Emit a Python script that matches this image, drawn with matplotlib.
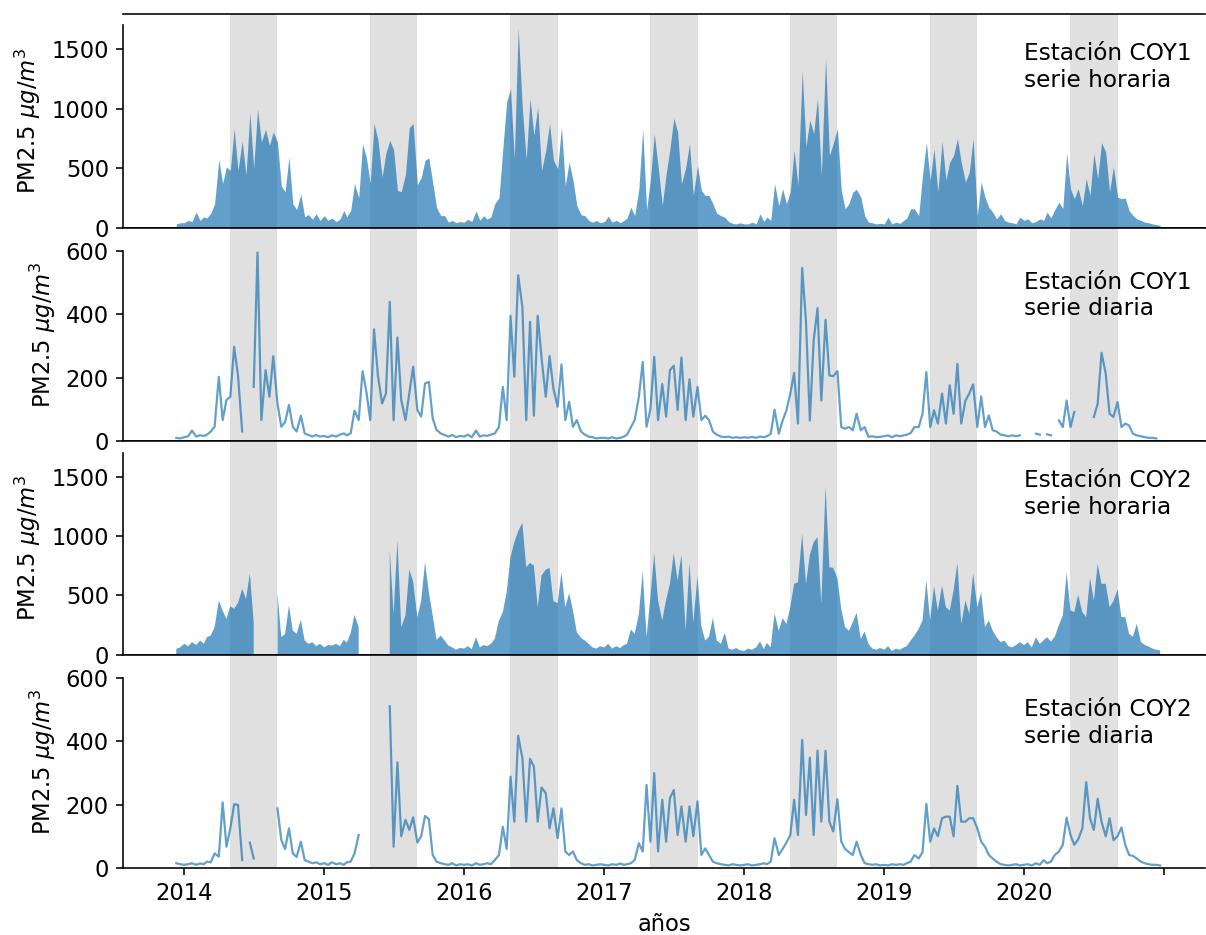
import numpy as np
import pandas as pd
import matplotlib
matplotlib.use('Agg')
import matplotlib.pyplot as plt

nan = np.nan

# valores leidos cada ~10 dias (dias 1, 11 y 21 de cada mes), dic-2013 a dic-2020
coy1_horaria = [
    nan, 30, 40,
    40, 60, 50, 130, 60, 90, 80, 120, 200, 573, 370, 510, 480, 832, 480, 725, 440, 966, 500, 995, 720, 826, 690, 804, 720, 350, 300, 593, 200, 150, 280, 90, 110, 70, 115, 60,
    100, 60, 80, 50, 70, 143, 90, 143, 370, 250, 705, 587, 370, 874, 740, 425, 627, 733, 655, 312, 300, 450, 840, 874, 360, 420, 565, 585, 377, 170, 100, 100, 45, 60, 40, 50,
    45, 70, 50, 140, 60, 100, 70, 90, 200, 250, 663, 1057, 1170, 580, 1680, 1000, 573, 1085, 775, 1015, 480, 650, 874, 565, 495, 846, 354, 550, 400, 185, 107, 100, 60, 45, 60, 40,
    50, 95, 45, 60, 40, 60, 80, 170, 100, 326, 830, 150, 400, 790, 520, 185, 450, 663, 920, 804, 368, 500, 705, 270, 523, 312, 270, 270, 200, 120, 100, 87, 50, 35, 30, 40,
    30, 30, 45, 30, 115, 50, 87, 60, 368, 185, 326, 200, 300, 650, 354, 1323, 680, 903, 790, 1090, 440, 1430, 607, 705, 832, 312, 157, 200, 298, 320, 255, 100, 45, 40, 30, 35,
    30, 87, 30, 45, 35, 60, 80, 157, 157, 100, 440, 714, 396, 663, 298, 725, 402, 550, 607, 748, 550, 382, 466, 748, 100, 382, 255, 170, 130, 73, 115, 60, 45, 40, 30, 87,
    60, 73, 40, 50, 73, 60, 130, 80, 150, 213, 160, 627, 326, 242, 326, 185, 410, 270, 627, 410, 714, 635, 298, 514, 255, 242, 247, 143, 100, 73, 60, 45, 40, 30, 25, 17,
]

coy1_diaria = [
    nan, 10, 8,
    12, 15, 33, 14, 18, 16, 20, 30, 45, 203, 66, 130, 140, 298, 208, 30, nan, nan, 171, 596, 66, 224, 140, 268, 119, 45, 60, 114, 45, 30, 80, 24, 19, 14, 19, 14,
    16, 12, 18, 14, 20, 24, 18, 24, 96, 66, 221, 156, 66, 353, 208, 119, 150, 440, 66, 327, 130, 66, 150, 235, 98, 77, 182, 187, 72, 35, 24, 19, 14, 19, 12, 16,
    14, 20, 12, 33, 14, 18, 16, 20, 24, 45, 171, 66, 396, 203, 524, 424, 66, 377, 80, 396, 263, 140, 268, 166, 108, 242, 66, 124, 45, 66, 30, 20, 14, 12, 8, 10,
    10, 8, 12, 8, 10, 14, 20, 43, 66, 140, 250, 45, 100, 266, 66, 180, 77, 224, 238, 98, 264, 66, 195, 77, 171, 66, 80, 66, 30, 20, 14, 12, 14, 10, 12, 10,
    12, 10, 13, 10, 14, 12, 15, 23, 99, 23, 65, 97, 150, 215, 55, 547, 376, 65, 318, 420, 128, 383, 207, 205, 221, 44, 39, 44, 34, 86, 34, 44, 13, 15, 12, 13,
    15, 18, 12, 18, 15, 18, 20, 25, 44, 44, 86, 218, 44, 97, 55, 150, 55, 176, 86, 244, 55, 128, 150, 179, 44, 141, 44, 81, 34, 30, 20, 18, 15, 18, 15, 18,
    nan, nan, nan, 23, 20, nan, 21, 18, nan, 65, 44, 128, 44, 92, nan, nan, nan, nan, 76, 118, 279, 213, 86, 76, 123, 44, 55, 49, 23, 18, 15, 12, 10, 10, 8, nan,
]

coy2_horaria = [
    nan, 48, 60,
    90, 70, 104, 80, 118, 90, 146, 160, 230, 455, 370, 300, 407, 385, 435, 553, 469, 685, 272, nan, nan, nan, nan, nan, 517, 146, 174, 413, 202, 174, 292, 118, 90, 104, 70, 90,
    60, 80, 75, 90, 70, 124, 100, 180, 334, 230, nan, nan, nan, nan, nan, nan, nan, 882, 343, 961, 230, 329, 716, 615, 315, 455, 778, 525, 329, 124, 160, 118, 75, 60, 40, 55,
    50, 70, 45, 146, 60, 80, 70, 90, 132, 287, 357, 525, 820, 947, 1040, 1110, 736, 772, 750, 399, 666, 716, 730, 449, 433, 694, 399, 517, 371, 188, 140, 118, 90, 60, 50, 70,
    60, 90, 50, 70, 55, 80, 90, 211, 174, 343, 700, 146, 483, 854, 455, 287, 460, 596, 854, 624, 840, 202, 772, 272, 660, 239, 118, 150, 309, 118, 90, 183, 50, 40, 55, 35,
    30, 50, 40, 60, 110, 45, 98, 60, 348, 200, 306, 258, 399, 596, 610, 1017, 596, 840, 947, 989, 427, 1419, 736, 730, 643, 385, 230, 200, 272, 351, 132, 194, 90, 50, 40, 55,
    40, 70, 30, 50, 40, 60, 70, 118, 160, 216, 287, 624, 287, 576, 371, 581, 399, 371, 539, 772, 258, 455, 343, 685, 399, 525, 230, 287, 202, 146, 104, 118, 70, 60, 80, 104,
    80, 104, 60, 146, 90, 120, 146, 110, 150, 250, 329, 688, 371, 357, 503, 357, 315, 646, 455, 764, 596, 596, 399, 449, 548, 315, 315, 174, 150, 258, 104, 80, 67, 50, 40, 34,
]

coy2_diaria = [
    nan, 15, 12,
    10, 12, 15, 10, 14, 12, 20, 18, 46, 36, 207, 67, 125, 201, 199, 25, nan, 80, 30, nan, nan, nan, nan, nan, 188, 88, 60, 125, 46, 35, 83, 25, 20, 15, 18, 12,
    15, 10, 18, 12, 15, 10, 18, 20, 46, 104, nan, nan, nan, nan, nan, nan, nan, 510, 67, 333, 100, 152, 120, 160, 80, 100, 164, 154, 41, 20, 15, 12, 10, 15, 8, 12,
    10, 12, 8, 15, 10, 12, 15, 12, 25, 41, 130, 60, 288, 146, 417, 346, 146, 344, 320, 146, 254, 236, 125, 188, 94, 188, 52, 41, 52, 25, 15, 10, 12, 8, 10, 12,
    10, 8, 12, 10, 14, 10, 12, 15, 25, 78, 52, 262, 83, 299, 52, 215, 83, 220, 246, 104, 194, 83, 194, 100, 210, 41, 62, 41, 20, 15, 12, 10, 8, 12, 10, 8,
    10, 12, 8, 10, 12, 15, 12, 20, 94, 41, 60, 80, 104, 215, 104, 404, 167, 348, 104, 370, 146, 369, 146, 115, 217, 83, 60, 50, 41, 83, 41, 15, 12, 10, 12, 8,
    10, 8, 12, 10, 12, 10, 15, 20, 41, 30, 50, 202, 83, 125, 100, 157, 162, 162, 100, 259, 146, 146, 157, 157, 125, 83, 67, 41, 30, 20, 12, 10, 8, 10, 12, 8,
    10, 12, 8, 15, 10, 25, 15, 20, 41, 52, 73, 159, 104, 73, 90, 125, 271, 157, 120, 218, 146, 100, 157, 88, 100, 128, 73, 41, 38, 30, 20, 15, 12, 10, 10, 8,
]

fechas = pd.to_datetime([f'{y}-{m:02d}-{d:02d}' for y in range(2013, 2021)
                         for m in range(1, 13) for d in (1, 11, 21)])[33:]

series = [coy1_horaria, coy1_diaria, coy2_horaria, coy2_diaria]
horaria = [True, False, True, False]
textos = ['Estación COY1\nserie horaria', 'Estación COY1\nserie diaria',
          'Estación COY2\nserie horaria', 'Estación COY2\nserie diaria']
ytop = [1795, 675, 1800, 673]
yticks = [[0, 500, 1000, 1500], [0, 200, 400, 600], [0, 500, 1000, 1500], [0, 200, 400, 600]]
spine_top = [1700, 600, 1700, 600]
texto_y = [0.868, 0.798, 0.868, 0.795]
anios = list(range(2014, 2022))

plt.rcParams['font.size'] = 11.3
fig, axs = plt.subplots(4, 1, sharex=True, figsize=(1206/144, 935/144), dpi=144)
fig.subplots_adjust(left=123/1206, right=1205/1206, top=1-14/935, bottom=1-868/935, hspace=0)

azul = '#1f77b4'
for i, ax in enumerate(axs):
    for a in range(2014, 2021):
        ax.axvspan(pd.Timestamp(a, 5, 1), pd.Timestamp(a, 9, 1), color='#e0e0e0', lw=0, zorder=0)
    v = np.array(series[i], dtype=float)
    if horaria[i]:
        ax.fill_between(fechas, 0, v, where=~np.isnan(v), color=azul, alpha=0.7, lw=0)
    else:
        ax.plot(fechas, v, color=azul, alpha=0.7, lw=1.1)
    ax.set_ylim(0, ytop[i])
    ax.set_yticks(yticks[i])
    ax.spines['right'].set_visible(False)
    ax.spines['left'].set_bounds(0, spine_top[i])
    ax.set_ylabel('PM2.5 $\\mu g/m^3$')
    ax.text(0.833, texto_y[i], textos[i], transform=ax.transAxes, va='top', ha='left',
            fontsize=11.6)
    if i < 3:
        ax.tick_params(axis='x', bottom=False)

ax = axs[-1]
ax.set_xlim(pd.Timestamp(2013, 7, 25), pd.Timestamp(2021, 4, 17))
ax.set_xticks([pd.Timestamp(a, 1, 1) for a in anios])
ax.set_xticklabels([str(a) for a in anios[:-1]] + [''])
ax.set_xlabel('años')

fig.savefig('out.png', dpi=144)
